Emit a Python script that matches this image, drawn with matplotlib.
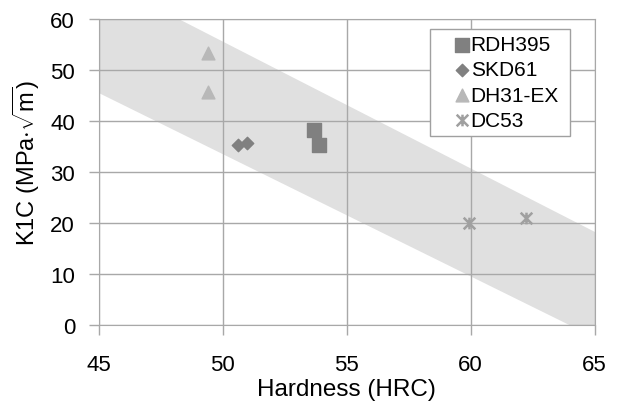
import matplotlib
matplotlib.use("Agg")
import matplotlib.pyplot as plt
from matplotlib.path import Path
import numpy as np

plt.rcParams['font.family'] = ['Liberation Sans', 'DejaVu Sans']
plt.rcParams['mathtext.fontset'] = 'custom'
plt.rcParams['mathtext.rm'] = 'Liberation Sans'

# measured points (hardness HRC, K1C)
rdh395_x = [53.7, 53.9]
rdh395_y = [38.1, 35.2]
skd61_x = [50.6, 51.0]
skd61_y = [35.2, 35.7]
dh31_x = [49.4, 49.4]
dh31_y = [53.2, 45.7]
dc53_x = [59.95, 62.25]
dc53_y = [19.9, 21.0]

# trend band edges
band_x = [45, 65]
band_upper = [68.0, 18.3]
band_lower = [45.5, -2.4]

# star marker: an X with a vertical bar through it
star = Path([(-1, -1), (1, 1), (-1, 1), (1, -1), (0, -1), (0, 1)],
            [Path.MOVETO, Path.LINETO, Path.MOVETO, Path.LINETO, Path.MOVETO, Path.LINETO])

FS = 16

fig = plt.figure(figsize=(6.19, 4.10), dpi=100)
ax = fig.add_axes([0.1595, 0.205, 0.801, 0.747])

ax.fill_between(band_x, band_lower, band_upper, color='#e0e0e0', lw=0, zorder=1)

ax.scatter(rdh395_x, rdh395_y, marker='s', s=88, color='#808080', label='RDH395', zorder=3)
ax.scatter(skd61_x, skd61_y, marker='D', s=40, color='#808080', label='SKD61', zorder=3)
ax.scatter(dh31_x, dh31_y, marker='^', s=85, color='#b8b8b8', label='DH31-EX', zorder=3)
ax.scatter(dc53_x, dc53_y, marker=star, s=70, color='#a0a0a0', linewidths=1.8,
           label='DC53', zorder=3)

ax.set_xlim(45, 65)
ax.set_ylim(0, 60)
ax.set_xticks(np.arange(45, 66, 5))
ax.set_yticks(np.arange(0, 61, 10))
ax.grid(True, color='#a8a8a8', lw=1.0, zorder=2)
ax.set_axisbelow(False)
for s in ax.spines.values():
    s.set_color('#a8a8a8')
    s.set_zorder(2)
ax.tick_params(colors='#a8a8a8', labelcolor='black', labelsize=FS, length=7, width=1.0,
               direction='out')
ax.tick_params(axis='x', pad=14)
ax.tick_params(axis='y', pad=10)

ax.set_xlabel('Hardness (HRC)', fontsize=17.5)
ax.xaxis.set_label_coords(0.5, -0.172)
ax.set_ylabel(r'K1C (MPa$\cdot\sqrt{\mathrm{m}}$)', fontsize=17)
ax.yaxis.set_label_coords(-0.114, 0.53)

# legend box stretched to a fixed width
leg = ax.legend(loc='upper left', bbox_to_anchor=(0.668, 0.967, 0.282, 0.0), mode='expand',
                fontsize=15, frameon=True, fancybox=False, edgecolor='#a0a0a0',
                framealpha=1, handlelength=2.47, handletextpad=-0.82, borderpad=0.3,
                labelspacing=0.3, borderaxespad=0)
leg.get_frame().set_linewidth(1.0)

fig.savefig('out.png', dpi=100)
